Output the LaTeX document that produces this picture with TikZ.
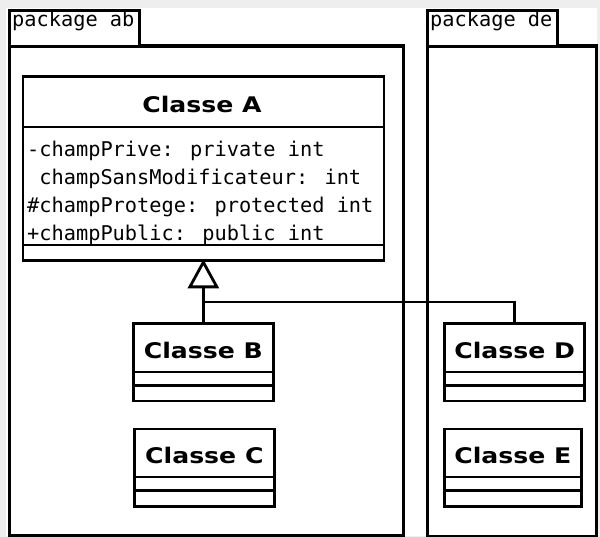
\documentclass[tikz,border=0pt]{standalone}
\usepackage{fontspec}
\setmainfont{DejaVu Sans}
\newfontfamily\monofont{DejaVu Sans Mono}
\newfontfamily\namefont[FakeStretch=1.17]{DejaVu Sans Bold}
\usetikzlibrary{arrows.meta}
\definecolor{bggrey}{HTML}{EEEEEE}
\begin{document}
\begin{tikzpicture}[x=1pt,y=-1pt,
  pkg/.style={draw, line width=3.3pt, fill=white, inner sep=0, anchor=north west},
  cls/.style={draw, line width=2.8pt, fill=white, inner sep=0, anchor=north west},
  clsname/.style={font=\namefont\fontsize{21.5}{22}\selectfont, anchor=base, inner sep=0},
  attr/.style={font=\monofont\fontsize{20.3}{20}\selectfont, anchor=base west, inner sep=0},
  pkglabel/.style={font=\monofont\fontsize{20.3}{20}\selectfont, anchor=base west, inner sep=0},
  conn/.style={line width=2.8pt},
  div/.style={line width=2.8pt}
]
\useasboundingbox (0,0) rectangle (600,537);
\fill[bggrey] (0,0) rectangle (600,537);
\fill[white] (6,8) rectangle (597,536);

% packages
\node[pkg, minimum width=394, minimum height=489] (pab) at (7.5,44.5) {};
\node[pkg, minimum width=130, minimum height=36] (pabtab) at (7.5,9) {};
\node[pkglabel] (pablabel) at (12,27) {package ab};
\node[pkg, minimum width=169.5, minimum height=490] (pde) at (425.5,44.5) {};
\node[pkg, minimum width=130, minimum height=36] (pdetab) at (425.5,9) {};
\node[pkglabel] (pdelabel) at (430,27) {package de};

% class A
\node[cls, minimum width=361, minimum height=184] (A) at (21.5,75.5) {};
\draw[div] (A.west |- 0,127) -- (A.east |- 0,127);
\draw[div] (A.west |- 0,245) -- (A.east |- 0,245);
\node[clsname] (Aname) at (202,112.3) {Classe A};
\node[attr] (a1) at (27,157) {-champPrive: private int};
\node[attr] (a2) at (27,185) {\ champSansModificateur: int};
\node[attr] (a3) at (27,213) {\#champProtege: protected int};
\node[attr] (a4) at (27,241) {+champPublic: public int};

% class B
\node[cls, minimum width=139.5, minimum height=77.5] (B) at (132.2,322) {};
\draw[div] (B.west |- 0,372) -- (B.east |- 0,372);
\draw[div] (B.west |- 0,385.5) -- (B.east |- 0,385.5);
\node[clsname] (Bname) at (B.north |- 0,358.3) {Classe B};

% class C
\node[cls, minimum width=139.5, minimum height=77.5] (C) at (133.2,427.5) {};
\draw[div] (C.west |- 0,477) -- (C.east |- 0,477);
\draw[div] (C.west |- 0,490.5) -- (C.east |- 0,490.5);
\node[clsname] (Cname) at (C.north |- 0,463.5) {Classe C};

% class D
\node[cls, minimum width=140, minimum height=77.5] (D) at (443.3,322) {};
\draw[div] (D.west |- 0,372) -- (D.east |- 0,372);
\draw[div] (D.west |- 0,385.5) -- (D.east |- 0,385.5);
\node[clsname] (Dname) at (D.north |- 0,358.3) {Classe D};

% class E
\node[cls, minimum width=137.5, minimum height=77.5] (E) at (442.7,427.5) {};
\draw[div] (E.west |- 0,477) -- (E.east |- 0,477);
\draw[div] (E.west |- 0,490.5) -- (E.east |- 0,490.5);
\node[clsname] (Ename) at (E.north |- 0,463.5) {Classe E};

% inheritance
\coordinate (join) at (B.north |- 0,302);
\draw[conn, shorten >=-3pt, -{Triangle[open, width=31pt, length=29pt, line width=2.8pt]}] (B.north) -- (B.north |- A.south);
\draw[conn] (D.north) |- (join);
\end{tikzpicture}
\end{document}
